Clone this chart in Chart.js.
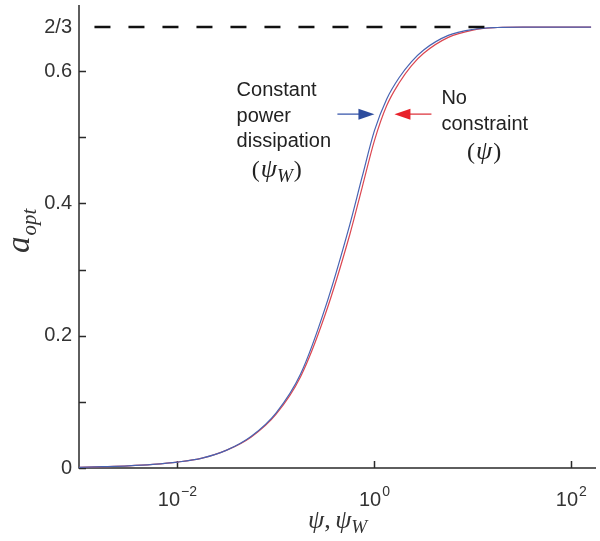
<!DOCTYPE html>
<html>
<head>
<meta charset="utf-8">
<script src="https://cdn.jsdelivr.net/npm/chart.js@4.4.1/dist/chart.umd.min.js"></script>
<style>
  body { margin: 0; background: #fff; }
  canvas { display: block; }
</style>
</head>
<body>
<canvas id="grafico" width="600" height="541"></canvas>
<script>
const logPsi = [-3, -2.75, -2.5, -2.25, -2, -1.75, -1.5, -1.25, -1, -0.75, -0.5, -0.25, -0.125, 0, 0.125, 0.25, 0.375, 0.5, 0.75, 1, 1.25, 1.5, 1.75, 2, 2.2];
// constant power dissipation (psi_W)
const aAzul = [0.001, 0.002, 0.0033, 0.0055, 0.009, 0.015, 0.027, 0.048, 0.083, 0.142, 0.242, 0.368, 0.440, 0.510, 0.558, 0.590, 0.614, 0.632, 0.654, 0.663, 0.666, 0.6667, 0.6667, 0.6667, 0.6667];
// no constraint (psi)
const aVermelho = [0.001, 0.002, 0.0033, 0.0055, 0.009, 0.015, 0.027, 0.047, 0.081, 0.138, 0.232, 0.353, 0.424, 0.495, 0.548, 0.582, 0.608, 0.627, 0.651, 0.662, 0.666, 0.6667, 0.6667, 0.6667, 0.6667];
// dashed 2/3 reference line, from/to log10(psi)
const linhaTracejada = [-2.843, 1.117];
const valorLimite = 2 / 3;

const yTicks = [0, 0.1, 0.2, 0.3, 0.4, 0.5, 0.6];
const yRotulos = { '0': '0', '0.2': '0.2', '0.4': '0.4', '0.6': '0.6' };
const xTicksExp = [-2, 0, 2];
const xRotulosExp = ['\u22122', '0', '2'];

function pontos(valores) {
  return logPsi.map((l, i) => ({ x: Math.pow(10, l), y: valores[i] }));
}

const sansFam = '"Liberation Sans", Arial, sans-serif';
const serifFam = '"Liberation Serif", "Times New Roman", serif';

const desenhaEixos = {
  id: 'desenhaEixos',
  beforeDatasetsDraw(chart) {
    const ctx = chart.ctx;
    const area = chart.chartArea;
    const x = chart.scales.x;
    const y = chart.scales.y;
    ctx.save();
    ctx.strokeStyle = '#2a2a2a';
    ctx.lineWidth = 1.5;
    ctx.beginPath();
    ctx.moveTo(area.left, area.top);
    ctx.lineTo(area.left, area.bottom);
    ctx.lineTo(area.right, area.bottom);
    yTicks.forEach(v => {
      const py = Math.round(y.getPixelForValue(v)) + 0.5;
      ctx.moveTo(area.left, py);
      ctx.lineTo(area.left + 7, py);
    });
    xTicksExp.forEach(e => {
      const px = Math.round(x.getPixelForValue(Math.pow(10, e))) + 0.5;
      ctx.moveTo(px, area.bottom);
      ctx.lineTo(px, area.bottom - 7);
    });
    ctx.stroke();

    // rotulos do eixo x com expoente
    ctx.fillStyle = '#333';
    ctx.textBaseline = 'alphabetic';
    ctx.textAlign = 'left';
    xTicksExp.forEach((e, i) => {
      const px = x.getPixelForValue(Math.pow(10, e));
      ctx.font = '20px ' + sansFam;
      const w1 = ctx.measureText('10').width;
      ctx.font = '14px ' + sansFam;
      const w2 = ctx.measureText(xRotulosExp[i]).width;
      const inicio = px - (w1 + w2 + 1) / 2;
      ctx.font = '20px ' + sansFam;
      ctx.fillText('10', inicio, area.bottom + 38);
      ctx.font = '14px ' + sansFam;
      ctx.fillText(xRotulosExp[i], inicio + w1 + 1, area.bottom + 28);
    });

    // titulo eixo x: psi, psi_W
    let cx = 308;
    const by = area.bottom + 60;
    ctx.font = 'italic 26px ' + serifFam;
    ctx.fillText('\u03c8', cx, by);
    cx += ctx.measureText('\u03c8').width;
    ctx.font = '26px ' + serifFam;
    ctx.fillText(',', cx, by);
    cx += ctx.measureText(', ').width - 2;
    ctx.font = 'italic 26px ' + serifFam;
    ctx.fillText('\u03c8', cx, by);
    cx += ctx.measureText('\u03c8').width;
    ctx.font = 'italic 19px ' + serifFam;
    ctx.fillText('W', cx, by + 5);

    // titulo eixo y: a_opt
    ctx.translate(29, 253);
    ctx.rotate(-Math.PI / 2);
    ctx.font = 'italic 33px ' + serifFam;
    ctx.fillText('a', 0, 0);
    const wa = ctx.measureText('a').width;
    ctx.font = 'italic 21px ' + serifFam;
    ctx.fillText('opt', wa + 1, 7);
    ctx.restore();
  },
  afterDatasetsDraw(chart) {
    const ctx = chart.ctx;
    const x = chart.scales.x;
    const y = chart.scales.y;
    const px = l => x.getPixelForValue(Math.pow(10, l));
    const py = v => y.getPixelForValue(v);
    ctx.save();

    function seta(de, ate, nivel, corLinha, corCabeca) {
      const x0 = px(de), x1 = px(ate), yy = py(nivel);
      const dir = Math.sign(x1 - x0);
      ctx.strokeStyle = corLinha;
      ctx.lineWidth = 1.5;
      ctx.beginPath();
      ctx.moveTo(x0, yy);
      ctx.lineTo(x1 - dir * 14, yy);
      ctx.stroke();
      ctx.fillStyle = corCabeca;
      ctx.beginPath();
      ctx.moveTo(x1, yy);
      ctx.lineTo(x1 - dir * 16, yy - 5.5);
      ctx.lineTo(x1 - dir * 16, yy + 5.5);
      ctx.closePath();
      ctx.fill();
    }
    seta(-0.376, 0.0, 0.535, '#5670b8', '#2e4d9e');
    seta(0.579, 0.203, 0.535, '#e2535a', '#e8202a');

    const sans = '20px ' + sansFam;
    ctx.fillStyle = '#222';
    ctx.textAlign = 'left';
    ctx.textBaseline = 'alphabetic';
    ctx.font = sans;
    let tx = px(-1.40), ty = py(0.562);
    ctx.fillText('Constant', tx, ty);
    ctx.fillText('power', tx, ty + 26);
    ctx.fillText('dissipation', tx, ty + 51);

    // (psi_W)
    tx = px(-1.245); ty = py(0.440);
    ctx.font = '24px ' + serifFam;
    ctx.fillText('(', tx, ty);
    tx += ctx.measureText('(').width + 1;
    ctx.font = 'italic 26px ' + serifFam;
    ctx.fillText('\u03c8', tx, ty);
    tx += ctx.measureText('\u03c8').width;
    ctx.font = 'italic 19px ' + serifFam;
    ctx.fillText('W', tx, ty + 5);
    tx += ctx.measureText('W').width + 1;
    ctx.font = '24px ' + serifFam;
    ctx.fillText(')', tx, ty);

    ctx.font = sans;
    tx = px(0.68); ty = py(0.55);
    ctx.fillText('No', tx, ty);
    ctx.fillText('constraint', tx, ty + 26);

    // (psi)
    tx = px(0.94); ty = py(0.467);
    ctx.font = '24px ' + serifFam;
    ctx.fillText('(', tx, ty);
    tx += ctx.measureText('(').width + 1;
    ctx.font = 'italic 26px ' + serifFam;
    ctx.fillText('\u03c8', tx, ty);
    tx += ctx.measureText('\u03c8').width + 1;
    ctx.font = '24px ' + serifFam;
    ctx.fillText(')', tx, ty);
    ctx.restore();
  }
};

const grafico = document.getElementById('grafico');

const graficoA = new Chart(grafico, {
  type: 'line',
  data: {
    datasets: [{
      label: 'Limite 2/3',
      data: linhaTracejada.map(l => ({ x: Math.pow(10, l), y: valorLimite })),
      borderColor: '#111',
      borderWidth: 2.6,
      borderDash: [16, 18],
      pointRadius: 0
    }, {
      label: 'Constant power dissipation',
      data: pontos(aAzul),
      borderColor: '#4763b2',
      borderWidth: 1.2,
      cubicInterpolationMode: 'monotone',
      pointRadius: 0
    }, {
      label: 'No constraint',
      data: pontos(aVermelho),
      borderColor: '#dc4650',
      borderWidth: 1.2,
      cubicInterpolationMode: 'monotone',
      pointRadius: 0
    }]
  },
  options: {
    responsive: false,
    devicePixelRatio: 1,
    animation: false,
    layout: { padding: { top: 5, right: 4, left: 0, bottom: 0 } },
    plugins: { legend: { display: false }, tooltip: { enabled: false } },
    scales: {
      x: {
        type: 'logarithmic',
        min: 1e-3,
        max: Math.pow(10, 2.25),
        grid: { display: false, drawTicks: false },
        border: { display: false },
        ticks: { display: false },
        afterFit(s) { s.height = 73; s.paddingLeft = 0; s.paddingRight = 0; }
      },
      y: {
        type: 'linear',
        min: 0,
        max: 0.7,
        grid: { display: false, drawTicks: false },
        border: { display: false },
        afterBuildTicks(s) {
          s.ticks = yTicks.map(v => ({ value: v }));
          s.ticks.push({ value: valorLimite });
        },
        ticks: {
          padding: 7,
          color: '#333',
          font: { family: sansFam, size: 20 },
          callback(v) {
            if (Math.abs(v - valorLimite) < 1e-6) return '2/3';
            const chave = String(Math.round(v * 10) / 10);
            return yRotulos[chave] || '';
          }
        },
        afterFit(s) { s.width = 79; s.paddingTop = 0; s.paddingBottom = 0; }
      }
    }
  },
  plugins: [desenhaEixos]
});
</script>
</body>
</html>
